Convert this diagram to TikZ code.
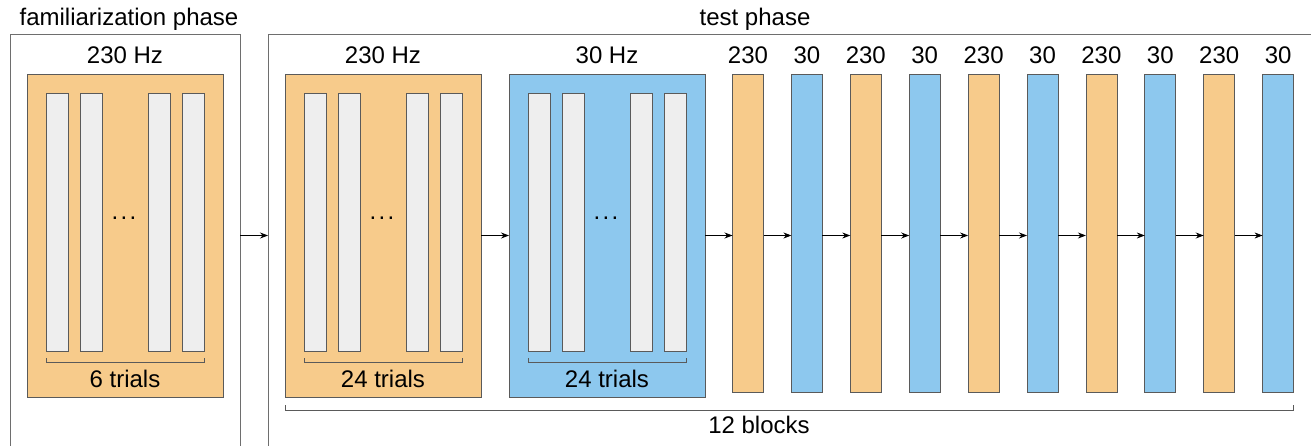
\documentclass[tikz,border=0pt]{standalone}
\usepackage{fontspec}
\setmainfont{Liberation Sans}
\usetikzlibrary{arrows.meta,calc}
\definecolor{orangefill}{HTML}{F7CB8B}
\definecolor{bluefill}{HTML}{8DC8EE}
\definecolor{barfill}{HTML}{EEEEEE}
\definecolor{edgegray}{HTML}{5A5A5A}
\definecolor{framegray}{HTML}{6E6E6E}
\tikzset{
  lbl/.style={font=\fontsize{24}{28}\selectfont, inner sep=0pt, text=black},
  bigbox/.style={draw=edgegray, line width=0.8pt, inner sep=0pt, outer sep=0pt, minimum width=196pt, minimum height=323pt},
  trialbar/.style={draw=edgegray, fill=barfill, line width=0.8pt, inner sep=0pt, outer sep=0pt, minimum width=22pt, minimum height=258pt},
  blockbar/.style={draw=edgegray, line width=0.8pt, inner sep=0pt, outer sep=0pt, minimum width=31pt, minimum height=318pt},
  frameline/.style={draw=framegray, line width=1pt},
  bracket/.style={draw=edgegray, line width=0.8pt},
  flow/.style={draw=black, line width=0.8pt, -{Stealth[length=8pt,width=6pt]}},
}
\begin{document}
\begin{tikzpicture}[x=1pt,y=-1pt]
\useasboundingbox (0,0) rectangle (1311,446);
% phase frames
\path[frameline] (10.5,447) -- (10.5,35) -- (240,35) -- (240,447);
\path[frameline] (268,447) -- (268,35) -- (1312,35);
\node[lbl] (famtitle) at (129,19) {familiarization phase};
\node[lbl] (testtitle) at (755,19) {test phase};
\coordinate (famR) at (240,235.5);
\coordinate (testL) at (268,235.5);
% big blocks
\node[bigbox, fill=orangefill] (fam) at (125,235.5) {};
\node[bigbox, fill=orangefill] (tA) at (383,235.5) {};
\node[bigbox, fill=bluefill] (tB) at (607,235.5) {};
\foreach \b/\h/\n in {fam/230 Hz/6, tA/230 Hz/24, tB/30 Hz/24}{
  \node[lbl] (\b-hz) at ($(\b.north)+(0,-19)$) {\h};
  \foreach \o [count=\k] in {30,64,132,166}{
    \node[trialbar] (\b-bar\k) at ($(\b.north west)+(\o,148)$) {};
  }
  \node[lbl] (\b-dots) at ($(\b.north west)+(97,144)$) {.\kern2.4pt.\kern2.4pt.};
  \path[bracket] ($(\b.north west)+(19,284)$) -- ($(\b.north west)+(19,288)$) -- ($(\b.north west)+(177,288)$) -- ($(\b.north west)+(177,284)$);
  \node[lbl] (\b-trials) at ($(\b.north west)+(98,305)$) {\n\ trials};
}
% small blocks
\foreach \i in {0,...,9}{
  \pgfmathsetmacro{\cx}{748+58.9*\i}
  \pgfmathtruncatemacro{\odd}{mod(\i,2)}
  \ifnum\odd=0
    \node[blockbar, fill=orangefill] (s\i) at (\cx,233) {};
    \node[lbl] (s\i-lbl) at (\cx,55) {230};
  \else
    \node[blockbar, fill=bluefill] (s\i) at (\cx,233) {};
    \node[lbl] (s\i-lbl) at (\cx,55) {30};
  \fi
}
% arrows
\draw[flow] (famR) -- (testL);
\draw[flow] (tA.east) -- (tB.west);
\draw[flow] (tB.east) -- (s0.west |- tB.east);
\foreach \i [evaluate=\i as \j using int(\i+1)] in {0,...,8}{
  \draw[flow] (s\i.east |- tB.east) -- (s\j.west |- tB.east);
}
% 12 blocks bracket
\coordinate (bl) at (285,405);
\coordinate (br) at (1293,405);
\path[bracket] (bl) -- ($(bl)+(0,5)$) -- ($(br)+(0,5)$) -- (br);
\node[lbl] (blocks) at (759,425) {12 blocks};
\end{tikzpicture}
\end{document}
